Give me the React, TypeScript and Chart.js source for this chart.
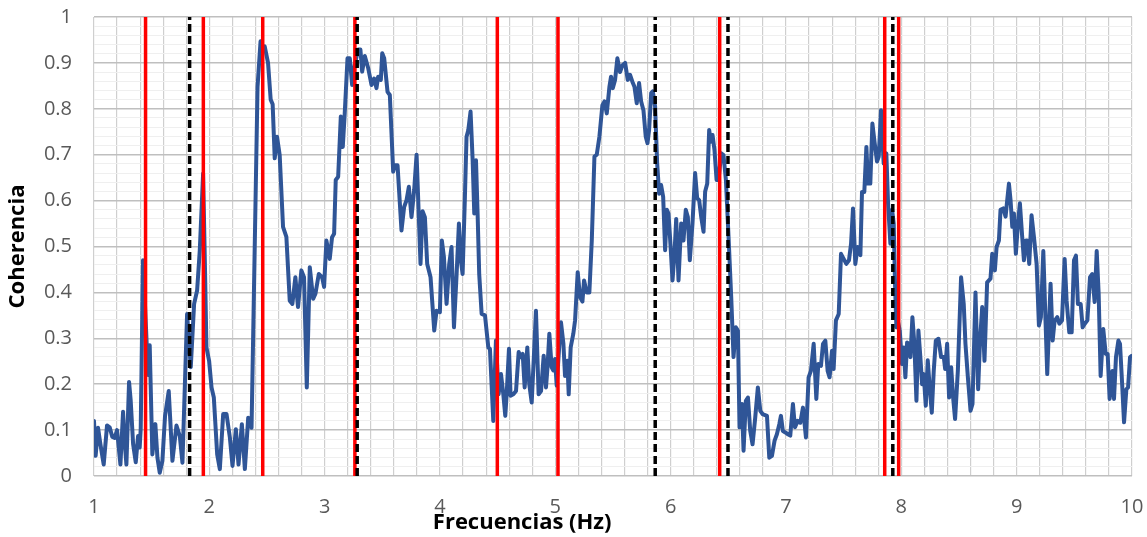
import React, { useEffect, useRef } from "react";
import { Chart, registerables } from "chart.js";

Chart.register(...registerables);

const freqs = [
  1.000, 1.014, 1.035, 1.055, 1.084, 1.113, 1.136, 1.159, 1.179, 1.200, 1.229, 1.252, 1.263, 1.281, 1.304, 1.318, 1.339, 1.362, 1.382, 1.396,
  1.405, 1.425, 1.469, 1.483, 1.506, 1.532, 1.550, 1.570, 1.593, 1.616, 1.648, 1.680, 1.715, 1.744, 1.767, 1.807, 1.839, 1.868, 1.894, 1.917,
  1.946, 1.961, 1.975, 1.998, 2.019, 2.039, 2.068, 2.091, 2.120, 2.149, 2.178, 2.201, 2.230, 2.253, 2.282, 2.308, 2.337, 2.366, 2.395, 2.418,
  2.444, 2.465, 2.480, 2.509, 2.532, 2.549, 2.567, 2.587, 2.610, 2.639, 2.668, 2.697, 2.720, 2.746, 2.769, 2.798, 2.821, 2.845, 2.871, 2.900,
  2.920, 2.949, 2.978, 2.995, 3.015, 3.044, 3.064, 3.082, 3.096, 3.117, 3.140, 3.157, 3.174, 3.198, 3.218, 3.238, 3.261, 3.290, 3.310, 3.325,
  3.348, 3.377, 3.406, 3.429, 3.449, 3.464, 3.487, 3.499, 3.516, 3.545, 3.565, 3.594, 3.608, 3.632, 3.666, 3.689, 3.710, 3.730, 3.753, 3.776,
  3.797, 3.831, 3.849, 3.869, 3.889, 3.918, 3.950, 3.970, 3.999, 4.016, 4.034, 4.057, 4.080, 4.100, 4.121, 4.144, 4.164, 4.181, 4.196, 4.216,
  4.230, 4.245, 4.265, 4.283, 4.297, 4.312, 4.326, 4.340, 4.361, 4.390, 4.419, 4.433, 4.462, 4.485, 4.508, 4.529, 4.549, 4.566, 4.578, 4.598,
  4.612, 4.636, 4.659, 4.682, 4.699, 4.717, 4.734, 4.757, 4.774, 4.795, 4.815, 4.832, 4.855, 4.876, 4.899, 4.919, 4.931, 4.948, 4.968, 4.983,
  4.997, 5.012, 5.035, 5.049, 5.070, 5.084, 5.104, 5.116, 5.133, 5.156, 5.171, 5.194, 5.214, 5.235, 5.249, 5.272, 5.295, 5.316, 5.339, 5.359,
  5.382, 5.408, 5.426, 5.446, 5.469, 5.483, 5.498, 5.518, 5.538, 5.561, 5.582, 5.605, 5.628, 5.648, 5.668, 5.686, 5.706, 5.726, 5.744, 5.764,
  5.784, 5.799, 5.813, 5.831, 5.845, 5.865, 5.883, 5.900, 5.917, 5.935, 5.952, 5.967, 5.981, 5.998, 6.016, 6.033, 6.048, 6.068, 6.091, 6.111,
  6.131, 6.149, 6.166, 6.189, 6.212, 6.230, 6.247, 6.265, 6.285, 6.299, 6.317, 6.334, 6.348, 6.363, 6.380, 6.398, 6.415, 6.438, 6.458, 6.479,
  6.502, 6.525, 6.545, 6.565, 6.583, 6.597, 6.618, 6.632, 6.652, 6.670, 6.690, 6.710, 6.733, 6.756, 6.777, 6.797, 6.835, 6.855, 6.878, 6.901,
  6.921, 6.942, 6.956, 6.973, 6.994, 7.017, 7.037, 7.060, 7.078, 7.101, 7.124, 7.147, 7.173, 7.196, 7.216, 7.240, 7.263, 7.280, 7.303, 7.321,
  7.341, 7.361, 7.378, 7.399, 7.413, 7.433, 7.457, 7.477, 7.500, 7.523, 7.546, 7.564, 7.581, 7.601, 7.621, 7.645, 7.659, 7.679, 7.697, 7.711,
  7.731, 7.749, 7.769, 7.789, 7.804, 7.824, 7.847, 7.870, 7.885, 7.905, 7.920, 7.934, 7.946, 7.957, 7.969, 7.986, 8.006, 8.021, 8.035, 8.050,
  8.064, 8.079, 8.096, 8.113, 8.131, 8.148, 8.165, 8.180, 8.194, 8.212, 8.229, 8.246, 8.264, 8.281, 8.299, 8.322, 8.345, 8.368, 8.380, 8.397,
  8.414, 8.432, 8.449, 8.466, 8.490, 8.518, 8.541, 8.556, 8.577, 8.600, 8.617, 8.643, 8.666, 8.681, 8.701, 8.721, 8.744, 8.773, 8.788, 8.811,
  8.826, 8.846, 8.860, 8.883, 8.904, 8.918, 8.933, 8.947, 8.962, 8.976, 8.993, 9.011, 9.028, 9.048, 9.063, 9.080, 9.092, 9.109, 9.129, 9.150,
  9.173, 9.193, 9.210, 9.231, 9.251, 9.265, 9.283, 9.294, 9.312, 9.329, 9.352, 9.370, 9.393, 9.416, 9.433, 9.456, 9.477, 9.497, 9.514, 9.531,
  9.555, 9.572, 9.589, 9.613, 9.636, 9.656, 9.676, 9.694, 9.711, 9.728, 9.751, 9.772, 9.789, 9.806, 9.830, 9.844, 9.861, 9.882, 9.896, 9.913,
  9.931, 9.951, 9.966, 9.983, 10.000,
];

const coherence = [
  0.120, 0.044, 0.105, 0.070, 0.025, 0.110, 0.106, 0.085, 0.083, 0.100, 0.025, 0.140, 0.084, 0.025, 0.205, 0.165, 0.070, 0.030, 0.087, 0.062,
  0.102, 0.470, 0.220, 0.285, 0.047, 0.113, 0.040, 0.007, 0.033, 0.131, 0.185, 0.033, 0.110, 0.087, 0.029, 0.353, 0.237, 0.375, 0.404, 0.491,
  0.659, 0.470, 0.280, 0.251, 0.193, 0.171, 0.047, 0.015, 0.135, 0.135, 0.084, 0.022, 0.102, 0.025, 0.113, 0.015, 0.127, 0.105, 0.520, 0.848,
  0.947, 0.935, 0.936, 0.900, 0.820, 0.810, 0.692, 0.739, 0.699, 0.543, 0.521, 0.382, 0.375, 0.433, 0.368, 0.448, 0.433, 0.193, 0.455, 0.386,
  0.397, 0.440, 0.433, 0.412, 0.513, 0.473, 0.520, 0.528, 0.645, 0.652, 0.783, 0.717, 0.790, 0.910, 0.910, 0.852, 0.896, 0.929, 0.929, 0.881,
  0.915, 0.889, 0.852, 0.866, 0.845, 0.870, 0.863, 0.921, 0.910, 0.837, 0.830, 0.663, 0.677, 0.677, 0.535, 0.586, 0.601, 0.630, 0.564, 0.623,
  0.700, 0.462, 0.577, 0.564, 0.462, 0.433, 0.317, 0.360, 0.357, 0.513, 0.477, 0.375, 0.462, 0.499, 0.324, 0.440, 0.550, 0.470, 0.440, 0.608,
  0.739, 0.753, 0.794, 0.688, 0.572, 0.688, 0.572, 0.440, 0.353, 0.350, 0.280, 0.277, 0.120, 0.295, 0.178, 0.222, 0.178, 0.131, 0.178, 0.277,
  0.175, 0.178, 0.185, 0.270, 0.259, 0.266, 0.193, 0.280, 0.200, 0.160, 0.266, 0.360, 0.178, 0.185, 0.262, 0.193, 0.233, 0.310, 0.237, 0.230,
  0.255, 0.197, 0.288, 0.335, 0.288, 0.218, 0.251, 0.178, 0.280, 0.310, 0.339, 0.444, 0.390, 0.380, 0.426, 0.400, 0.400, 0.513, 0.696, 0.700,
  0.739, 0.808, 0.816, 0.790, 0.848, 0.870, 0.845, 0.863, 0.910, 0.880, 0.895, 0.900, 0.863, 0.874, 0.859, 0.848, 0.812, 0.856, 0.816, 0.797,
  0.739, 0.725, 0.754, 0.834, 0.838, 0.805, 0.681, 0.615, 0.634, 0.608, 0.492, 0.580, 0.572, 0.506, 0.426, 0.484, 0.560, 0.426, 0.550, 0.513,
  0.580, 0.564, 0.470, 0.550, 0.660, 0.605, 0.601, 0.564, 0.532, 0.620, 0.637, 0.754, 0.728, 0.743, 0.710, 0.645, 0.645, 0.703, 0.699, 0.645,
  0.520, 0.390, 0.259, 0.324, 0.317, 0.106, 0.157, 0.055, 0.164, 0.171, 0.098, 0.069, 0.127, 0.193, 0.142, 0.135, 0.131, 0.040, 0.044, 0.077,
  0.091, 0.113, 0.131, 0.098, 0.095, 0.091, 0.088, 0.157, 0.106, 0.120, 0.116, 0.149, 0.084, 0.215, 0.229, 0.288, 0.168, 0.244, 0.240, 0.288,
  0.295, 0.229, 0.215, 0.273, 0.233, 0.339, 0.353, 0.484, 0.473, 0.462, 0.470, 0.506, 0.583, 0.462, 0.499, 0.481, 0.619, 0.619, 0.717, 0.637,
  0.637, 0.768, 0.725, 0.685, 0.696, 0.797, 0.681, 0.703, 0.594, 0.506, 0.580, 0.550, 0.411, 0.324, 0.339, 0.317, 0.244, 0.280, 0.215, 0.291,
  0.288, 0.259, 0.346, 0.288, 0.164, 0.317, 0.259, 0.200, 0.222, 0.153, 0.252, 0.193, 0.138, 0.229, 0.295, 0.299, 0.259, 0.259, 0.233, 0.288,
  0.171, 0.237, 0.171, 0.124, 0.229, 0.433, 0.375, 0.288, 0.215, 0.142, 0.157, 0.400, 0.189, 0.288, 0.368, 0.251, 0.422, 0.430, 0.484, 0.448,
  0.499, 0.513, 0.580, 0.583, 0.565, 0.601, 0.637, 0.601, 0.543, 0.572, 0.484, 0.550, 0.594, 0.521, 0.470, 0.513, 0.513, 0.462, 0.568, 0.520,
  0.462, 0.328, 0.346, 0.490, 0.332, 0.222, 0.346, 0.419, 0.295, 0.338, 0.346, 0.332, 0.339, 0.473, 0.382, 0.313, 0.313, 0.470, 0.480, 0.375,
  0.375, 0.324, 0.331, 0.339, 0.433, 0.440, 0.379, 0.490, 0.397, 0.218, 0.320, 0.266, 0.266, 0.168, 0.229, 0.168, 0.259, 0.295, 0.288, 0.208,
  0.117, 0.189, 0.193, 0.259, 0.262,
];

const redLines = [1.447, 1.948, 2.463, 3.262, 4.497, 5.023, 6.425, 7.856, 7.977];
const blackLines = [1.829, 3.282, 5.866, 6.497, 7.926];

const xMin = 1;
const xMax = 10;
const xStep = 0.2;
const yMin = 0;
const yMax = 1;
const yStep = 0.02;

const xTitle = "Frecuencias (Hz)";
const yTitle = "Coherencia";

const isMultiple = (v: number, m: number) => Math.abs(v / m - Math.round(v / m)) < 1e-6;

// The x-axis title in the original sits left of the plot centre.
const xTitlePlugin = {
  id: "xTitleOffset",
  afterDraw(chart: any) {
    const { ctx, chartArea } = chart;
    ctx.save();
    ctx.font = "bold 22px 'Open Sans'";
    ctx.fillStyle = "#000000";
    ctx.textAlign = "center";
    ctx.textBaseline = "middle";
    const cx = chartArea.left + (chartArea.right - chartArea.left) * 0.4125;
    ctx.fillText(xTitle, cx, chart.height - 14);
    ctx.restore();
  },
};

export default function App() {
  const ref = useRef<HTMLCanvasElement | null>(null);

  useEffect(() => {
    if (!ref.current) return;
    const vertical = (f: number) => [
      { x: f, y: yMin },
      { x: f, y: yMax },
    ];
    const datasets: any[] = [];
    blackLines.forEach((f) =>
      datasets.push({
        data: vertical(f),
        borderColor: "#000000",
        borderWidth: 3.5,
        borderDash: [8, 4],
        pointRadius: 0,
        order: 0,
      })
    );
    redLines.forEach((f) =>
      datasets.push({
        data: vertical(f),
        borderColor: "#FF0000",
        borderWidth: 3.5,
        pointRadius: 0,
        order: 1,
      })
    );
    datasets.push({
      data: freqs.map((f, i) => ({ x: f, y: coherence[i] })),
      borderColor: "#2F5597",
      borderWidth: 4,
      borderJoinStyle: "round",
      borderCapStyle: "round",
      pointRadius: 0,
      tension: 0,
      order: 2,
    });

    const chart = new Chart(ref.current, {
      type: "line",
      data: { datasets },
      plugins: [xTitlePlugin],
      options: {
        responsive: false,
        animation: false,
        layout: { padding: { top: 17, right: 15, left: 0, bottom: 0 } },
        plugins: { legend: { display: false }, tooltip: { enabled: false } },
        elements: { point: { radius: 0 } },
        scales: {
          x: {
            type: "linear",
            min: xMin,
            max: xMax,
            ticks: {
              stepSize: xStep,
              autoSkip: false,
              maxRotation: 0,
              padding: 19,
              color: "#595959",
              font: { family: "Open Sans", size: 20 },
              callback: (v: any) => (isMultiple(Number(v), 1) ? String(Math.round(Number(v))) : ""),
            },
            grid: { color: "#CFCFCF", lineWidth: 1.2, drawTicks: false },
            border: { display: false },
            title: { display: false },
            afterFit: (s: any) => {
              s.height = 61;
              s.paddingLeft = 0;
              s.paddingRight = 0;
            },
          },
          y: {
            type: "linear",
            min: yMin,
            max: yMax,
            ticks: {
              stepSize: yStep,
              autoSkip: false,
              padding: 22,
              color: "#595959",
              font: { family: "Open Sans", size: 20 },
              callback: (v: any) => (isMultiple(Number(v), 0.1) ? String(Math.round(Number(v) * 10) / 10) : ""),
            },
            grid: {
              drawTicks: false,
              color: (c: any) => (c.tick && isMultiple(c.tick.value, 0.1) ? "#BFBFBF" : "#EFEFEF"),
              lineWidth: (c: any) => (c.tick && isMultiple(c.tick.value, 0.1) ? 1.5 : 1),
            },
            border: { display: false },
            title: {
              display: true,
              text: yTitle,
              color: "#000000",
              font: { family: "Open Sans", size: 22, weight: "bold" },
              padding: { top: 5, bottom: 0 },
            },
            afterFit: (s: any) => {
              s.width = 94;
              s.paddingTop = 0;
              s.paddingBottom = 0;
            },
          },
        },
      } as any,
    });
    return () => chart.destroy();
  }, []);

  return (
    <div style={{ position: "fixed", left: 0, top: 0, width: 1147, height: 537, background: "#fff" }}>
      <canvas ref={ref} width={1147} height={537} style={{ display: "block" }} />
    </div>
  );
}
